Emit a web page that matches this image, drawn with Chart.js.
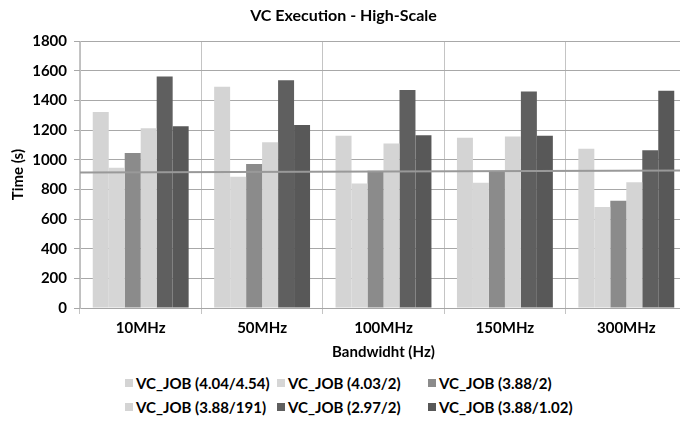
<!DOCTYPE html>
<html>
<head>
<meta charset="utf-8">
<script src="https://cdn.jsdelivr.net/npm/chart.js@4/dist/chart.umd.min.js"></script>
<style>
  html, body { margin: 0; padding: 0; background: #fff; overflow: hidden; }
  #wrap { position: relative; width: 692px; height: 424px; }
  #c { position: absolute; left: 0; top: 0; }
  .lg { position: absolute; font-family: Lato, "Open Sans", sans-serif; font-weight: bold; font-size: 15px; color: #000; white-space: nowrap; line-height: 16px; }
  .lg i { position: absolute; left: 0; top: 4px; width: 8px; height: 8px; }
  .lg span { position: absolute; left: 11px; top: 0; }
</style>
</head>
<body>
<div id="wrap">
  <canvas id="c" width="692" height="366"></canvas>
  <div id="legend"></div>
</div>
<script>
const categories = ["10MHz", "50MHz", "100MHz", "150MHz", "300MHz"];
const seriesNames = ["VC_JOB (4.04/4.54)", "VC_JOB (4.03/2)", "VC_JOB (3.88/2)", "VC_JOB (3.88/191)", "VC_JOB (2.97/2)", "VC_JOB (3.88/1.02)"];
const job_404_454 = [1322, 1492, 1162, 1148, 1074];
const job_403_2   = [946, 885, 840, 845, 681];
const job_388_2   = [1045, 971, 926, 925, 723];
const job_388_191 = [1213, 1119, 1110, 1157, 849];
const job_297_2   = [1562, 1537, 1470, 1460, 1065];
const job_388_102 = [1227, 1234, 1166, 1162, 1465];
const trendLine = [914, 928];
const yTicks = [0, 200, 400, 600, 800, 1000, 1200, 1400, 1600, 1800];

const seriesValues = [job_404_454, job_403_2, job_388_2, job_388_191, job_297_2, job_388_102];
const seriesColors = ["#d4d4d4", "#d6d6d6", "#8b8b8b", "#d4d4d4", "#5f5f5f", "#585858"];

const font = "Lato, 'Open Sans', sans-serif";

const datasets = seriesNames.map((name, i) => ({
  type: 'bar',
  indexAxis: 'x',
  label: name,
  data: seriesValues[i],
  backgroundColor: seriesColors[i],
  borderWidth: 0,
  barPercentage: 1.0,
  categoryPercentage: 0.79,
  order: 2
}));
datasets.push({
  type: 'line',
  indexAxis: 'x',
  label: 'trend',
  xAxisID: 'x2',
  data: [{x: 0, y: trendLine[0]}, {x: 1, y: trendLine[1]}],
  borderColor: '#999999',
  borderWidth: 2,
  pointRadius: 0,
  fill: false,
  order: 0
});

new Chart(document.getElementById('c'), {
  type: 'bar',
  data: { labels: categories, datasets: datasets },
  options: {
    indexAxis: 'y',
    responsive: false,
    animation: false,
    layout: { padding: { left: 0, right: 5, top: 0, bottom: 0 } },
    plugins: {
      legend: { display: false },
      tooltip: { enabled: false },
      title: {
        display: true,
        text: 'VC Execution - High-Scale',
        color: '#000',
        font: { family: font, size: 16, weight: 'bold' },
        padding: { top: 6, bottom: 16 }
      }
    },
    scales: {
      x: {
        type: 'category',
        offset: true,
        grid: { color: '#c4c4c4', tickLength: 6, offset: true },
        border: { color: '#a6a6a6' },
        ticks: { color: '#000', font: { family: font, size: 15, weight: 'bold' }, padding: 5 },
        title: { display: true, text: 'Bandwidht (Hz)', color: '#000', font: { family: font, size: 15, weight: 'bold' }, padding: { top: 0, bottom: 5 } },
        afterFit: s => { s.height = 58; }
      },
      x2: {
        type: 'linear', display: false, min: 0, max: 1, offset: false
      },
      y: {
        type: 'linear',
        offset: false,
        beginAtZero: true,
        min: 0, max: 1800,
        afterBuildTicks: s => { s.ticks = yTicks.map(v => ({ value: v })); },
        grid: { color: '#a8a8a8', tickLength: 6, offset: false },
        border: { color: '#c0c0c0' },
        ticks: { color: '#000', font: { family: font, size: 15, weight: 'bold' }, padding: 7, callback: v => String(v) },
        title: { display: true, text: 'Time (s)', color: '#000', font: { family: font, size: 15, weight: 'bold' }, padding: { top: 9, bottom: 0 } },
        afterFit: s => { s.width = 80; }
      }
    }
  }
});

// Legend laid out as a 3-column table, as in the reference
const colLeft = [125, 277, 428];
const rowTop = [375, 399];
const lg = document.getElementById('legend');
seriesNames.forEach((name, i) => {
  const d = document.createElement('div');
  d.className = 'lg';
  d.style.left = colLeft[i % 3] + 'px';
  d.style.top = rowTop[Math.floor(i / 3)] + 'px';
  const b = document.createElement('i');
  b.style.background = seriesColors[i];
  const t = document.createElement('span');
  t.textContent = name;
  d.appendChild(b); d.appendChild(t);
  lg.appendChild(d);
});
</script>
</body>
</html>
